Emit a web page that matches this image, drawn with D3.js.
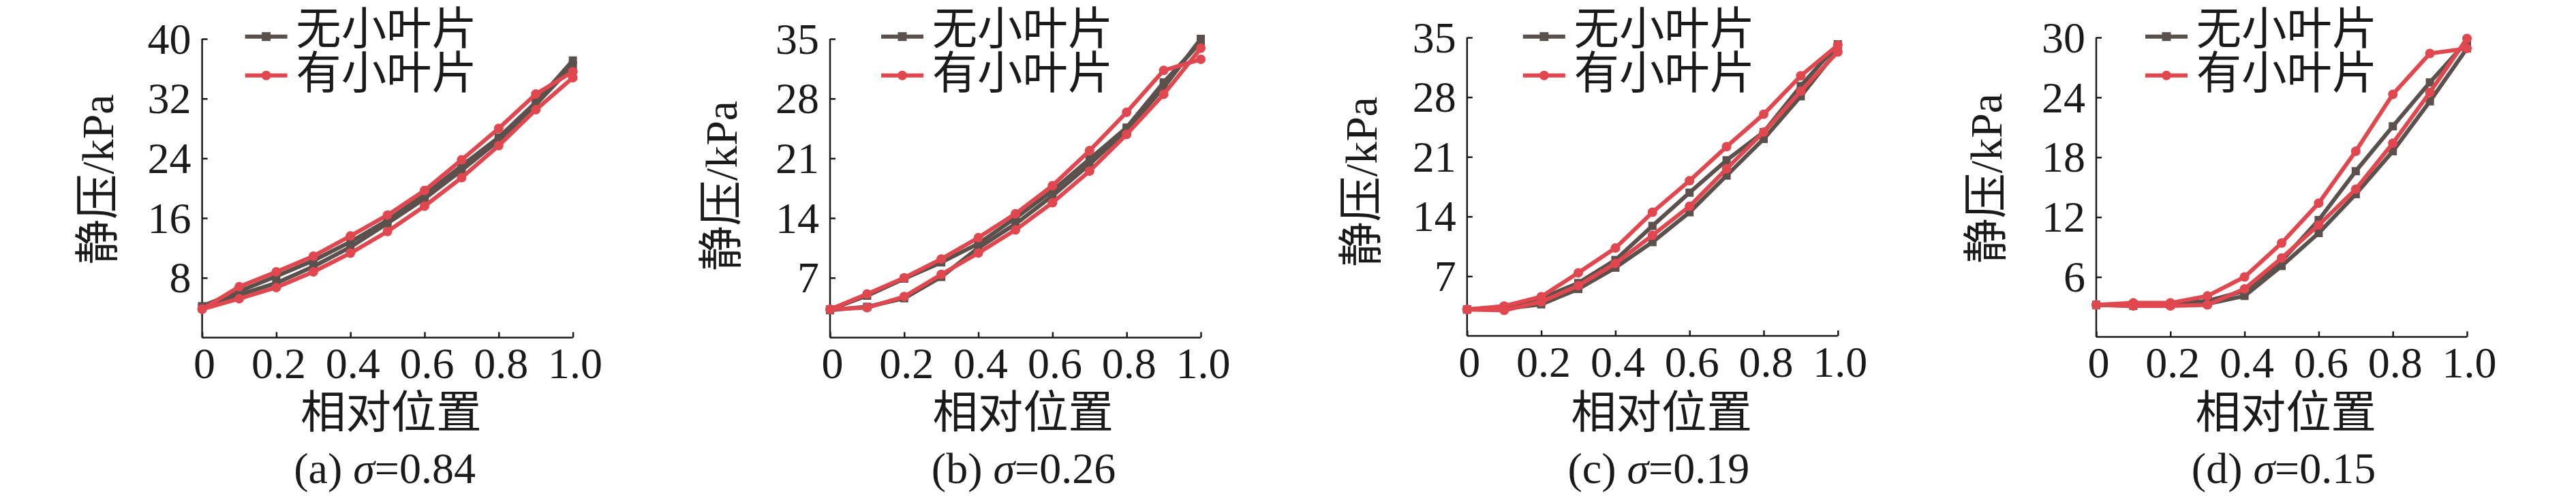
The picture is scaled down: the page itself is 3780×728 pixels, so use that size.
<!DOCTYPE html>
<html><head><meta charset="utf-8">
<script src="https://cdn.jsdelivr.net/npm/d3@7"></script>
<style>body{margin:0;background:#fff}</style>
</head><body>
<svg id="chart" width="3780" height="728" xmlns="http://www.w3.org/2000/svg"></svg>
<script>
// ---- data ----
const xPos = [0, 0.1, 0.2, 0.3, 0.4, 0.5, 0.6, 0.7, 0.8, 0.9, 1.0];
const xTickVals = [0, 0.2, 0.4, 0.6, 0.8, 1.0];
const xTickLabels = ["0", "0.2", "0.4", "0.6", "0.8", "1.0"];
const seriesNames = ["无小叶片", "有小叶片"];
const panelLabels = ["(a)", "(b)", "(c)", "(d)"];
const sigmaValues = ["0.84", "0.26", "0.19", "0.15"];
const yMaxes = [40, 35, 35, 30];
const yTicksA = [8, 16, 24, 32, 40];
const yTicksB = [7, 14, 21, 28, 35];
const yTicksC = [7, 14, 21, 28, 35];
const yTicksD = [6, 12, 18, 24, 30];
const xTitle = "相对位置";
const yTitleCJK = "静压";
const yTitleUnit = "/kPa";

// 无小叶片 (gray) – two branches; 有小叶片 (red) – two branches
const grayUpA = [4.2, 6.2, 8.2, 10.3, 12.8, 15.7, 19.1, 23.0, 26.8, 31.5, 37.1];
const grayDnA = [4.0, 5.7, 7.3, 9.5, 12.1, 15.3, 18.6, 22.4, 26.4, 31.2, 36.4];
const redUpA  = [3.8, 6.8, 8.8, 10.9, 13.6, 16.4, 19.7, 23.8, 28.0, 32.6, 35.6];
const redDnA  = [3.8, 5.2, 6.7, 8.8, 11.3, 14.2, 17.6, 21.4, 25.7, 30.5, 34.8];

const grayUpB = [3.3, 4.9, 6.9, 8.8, 11.0, 14.0, 17.2, 20.9, 24.6, 29.9, 34.6];
const grayDnB = [3.2, 3.6, 4.6, 7.1, 10.5, 13.3, 16.6, 20.3, 24.3, 29.3, 35.0];
const redUpB  = [3.3, 5.1, 7.0, 9.2, 11.7, 14.5, 17.8, 21.9, 26.4, 31.3, 32.6];
const redDnB  = [3.3, 3.5, 4.8, 7.4, 9.9, 12.6, 15.8, 19.5, 23.8, 28.5, 33.9];

const grayUpC = [3.1, 3.4, 4.4, 6.2, 8.9, 12.9, 16.8, 20.6, 23.9, 29.3, 34.2];
const grayDnC = [3.1, 3.2, 3.7, 5.5, 8.0, 11.0, 14.5, 18.8, 23.1, 28.1, 33.6];
const redUpC  = [3.1, 3.5, 4.6, 7.4, 10.3, 14.5, 18.2, 22.2, 26.0, 30.5, 34.1];
const redDnC  = [3.1, 3.0, 4.0, 5.9, 8.5, 11.8, 15.2, 19.6, 23.9, 28.7, 33.3];

const grayUpD = [3.2, 3.3, 3.3, 3.6, 4.6, 7.6, 11.7, 16.6, 21.1, 25.5, 29.6];
const grayDnD = [3.2, 3.1, 3.2, 3.3, 4.1, 7.1, 10.4, 14.3, 18.6, 23.6, 28.9];
const redUpD  = [3.2, 3.4, 3.4, 4.1, 6.0, 9.4, 13.4, 18.6, 24.3, 28.4, 28.9];
const redDnD  = [3.2, 3.1, 3.1, 3.2, 4.8, 7.9, 11.2, 14.8, 19.4, 24.5, 29.9];

// ---- layout / style ----
const layout = [
  {x0: 296.6,  top: 57.0, bottom: 495.4, leg: 63, xt: 4,  cap: -4, ytR: -125, ytS: 386.5},
  {x0: 1218.0, top: 57.0, bottom: 495.4, leg: 75, xt: 10, cap: 12, ytR: -131, ytS: 396},
  {x0: 2152.8, top: 55.0, bottom: 493.0, leg: 82, xt: 12, cap: 9,  ytR: -127, ytS: 390},
  {x0: 3076.0, top: 55.0, bottom: 494.4, leg: 72, xt: 5,  cap: 3,  ytR: -133, ytS: 385}
];
const plotW = 544;
const GRAY = "#5a514d", RED = "#e0474e", INK = "#1a1a1a";
const SERIF = "'Liberation Serif','Times New Roman',serif";
const CJK = "'Noto Sans CJK SC','Noto Sans CJK JP',sans-serif";

// ink measurement so CJK glyphs match the reference's glyph extent
const ctx = document.createElement("canvas").getContext("2d");
function ink(text, family, size) {
  ctx.font = `${size}px ${family}`;
  const m = ctx.measureText(text);
  return {left: m.actualBoundingBoxLeft, right: m.actualBoundingBoxRight,
          w: m.actualBoundingBoxLeft + m.actualBoundingBoxRight,
          asc: m.actualBoundingBoxAscent, desc: m.actualBoundingBoxDescent};
}
const cjkSize = 100 * 261 / ink(xTitle, CJK, 100).w;

const panels = [
  {yTicks: yTicksA, gray: [grayUpA, grayDnA], red: [redUpA, redDnA]},
  {yTicks: yTicksB, gray: [grayUpB, grayDnB], red: [redUpB, redDnB]},
  {yTicks: yTicksC, gray: [grayUpC, grayDnC], red: [redUpC, redDnC]},
  {yTicks: yTicksD, gray: [grayUpD, grayDnD], red: [redUpD, redDnD]}
];

const svg = d3.select("#chart");
svg.append("rect").attr("width", 3780).attr("height", 728).attr("fill", "#fff");

panels.forEach((p, i) => {
  const L = layout[i];
  const g = svg.append("g");
  const x = d3.scaleLinear().domain([0, 1]).range([L.x0, L.x0 + plotW]);
  const y = d3.scaleLinear().domain([0, yMaxes[i]]).range([L.bottom, L.top]);

  // axes
  const yAx = g.append("g").attr("transform", `translate(${L.x0},0)`)
    .call(d3.axisLeft(y).tickValues(p.yTicks).tickSize(-8).tickSizeOuter(0).tickPadding(16).tickFormat(d => String(d)));
  const xAx = g.append("g").attr("transform", `translate(0,${L.bottom})`)
    .call(d3.axisBottom(x).tickValues(xTickVals).tickSize(-8).tickSizeOuter(0).tickPadding(16)
      .tickFormat((d, k) => xTickLabels[k]));
  [yAx, xAx].forEach(a => {
    a.attr("font-family", SERIF).attr("font-size", 64);
    a.selectAll("path.domain").attr("stroke", INK).attr("stroke-width", 2.5);
    a.selectAll(".tick line").attr("stroke", INK).attr("stroke-width", 2.5);
    a.selectAll(".tick text").attr("fill", INK);
  });
  yAx.select("path.domain").attr("d", `M0,${L.bottom}V${L.top}`);
  xAx.select("path.domain").attr("d", `M${L.x0},0H${L.x0 + plotW}`);
  yAx.selectAll(".tick text").attr("dy", "0.33em");
  xAx.selectAll(".tick text").attr("y", 60).attr("dy", 0).attr("dx", 3);

  const line = d3.line().x((d, k) => x(xPos[k])).y(d => y(d));

  p.gray.forEach(arr => {
    g.append("path").datum(arr).attr("d", line).attr("fill", "none")
      .attr("stroke", GRAY).attr("stroke-width", 6).attr("stroke-linejoin", "round");
    g.selectAll(null).data(arr).enter().append("rect")
      .attr("x", (d, k) => x(xPos[k]) - 6).attr("y", d => y(d) - 6)
      .attr("width", 12).attr("height", 12).attr("fill", GRAY);
  });
  p.red.forEach(arr => {
    g.append("path").datum(arr).attr("d", line).attr("fill", "none")
      .attr("stroke", RED).attr("stroke-width", 6).attr("stroke-linejoin", "round");
    g.selectAll(null).data(arr).enter().append("circle")
      .attr("cx", (d, k) => x(xPos[k])).attr("cy", d => y(d)).attr("r", 7).attr("fill", RED);
  });

  // legend
  const lx = L.x0 + L.leg;
  const legRows = [{name: seriesNames[0], c: GRAY, ly: 53.7, inkBottom: 71.5, shape: "rect"},
                   {name: seriesNames[1], c: RED, ly: 110.7, inkBottom: 136.7, shape: "circle"}];
  legRows.forEach(r => {
    g.append("line").attr("x1", lx).attr("x2", lx + 62).attr("y1", r.ly).attr("y2", r.ly)
      .attr("stroke", r.c).attr("stroke-width", 6);
    if (r.shape === "rect") {
      g.append("rect").attr("x", lx + 31 - 6.5).attr("y", r.ly - 6.5).attr("width", 13).attr("height", 13).attr("fill", r.c);
    } else {
      g.append("circle").attr("cx", lx + 31).attr("cy", r.ly).attr("r", 7).attr("fill", r.c);
    }
    const m = ink(r.name, CJK, cjkSize);
    g.append("text").attr("x", lx + 76.7 + m.left).attr("y", r.inkBottom - m.desc)
      .attr("font-family", CJK).attr("font-size", cjkSize).attr("fill", INK).text(r.name);
  });

  // x title (ink 578..634)
  const mx = ink(xTitle, CJK, cjkSize);
  const xtc = L.x0 + plotW / 2 + L.xt;
  g.append("text").attr("x", xtc - mx.w / 2 + mx.left).attr("y", 634 - mx.desc)
    .attr("font-family", CJK).attr("font-size", cjkSize).attr("fill", INK).text(xTitle);

  // caption
  const cap = g.append("text").attr("x", L.x0 + plotW / 2 + L.cap).attr("y", 709).attr("text-anchor", "middle")
    .attr("font-family", SERIF).attr("font-size", 64).attr("fill", INK);
  cap.append("tspan").text(panelLabels[i] + " ");
  cap.append("tspan").attr("font-style", "italic").text("σ");
  cap.append("tspan").text("=" + sigmaValues[i]);

  // y title, rotated; ink starts at page y = ytS and its lower (right) edge at x0+ytR
  const mc = ink(yTitleCJK, CJK, cjkSize);
  const tx = L.x0 + L.ytR - mc.desc;
  const ty = L.ytS - mc.left;
  const yt = g.append("text").attr("transform", `translate(${tx},${ty}) rotate(-90)`)
    .attr("fill", INK);
  yt.append("tspan").attr("font-family", CJK).attr("font-size", cjkSize).text(yTitleCJK);
  yt.append("tspan").attr("font-family", SERIF).attr("font-size", 66).text(yTitleUnit);
});
</script>
</body></html>
